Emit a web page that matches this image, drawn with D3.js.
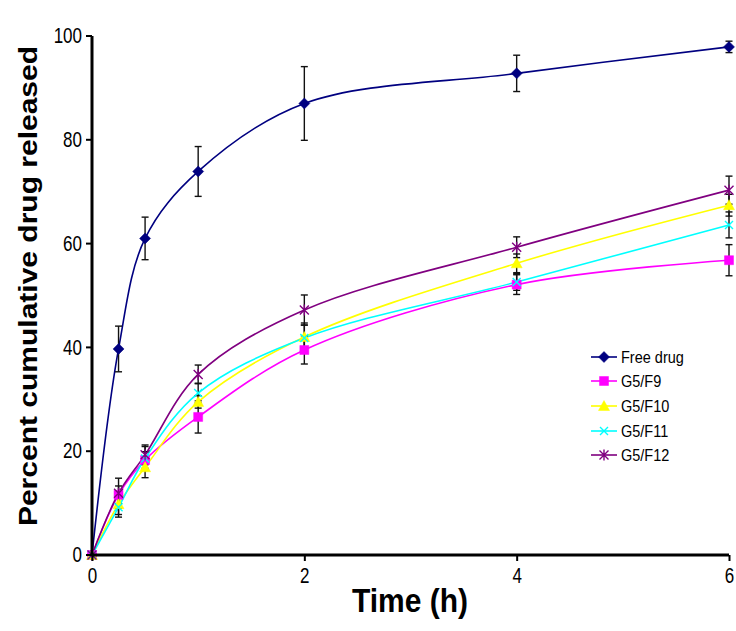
<!DOCTYPE html>
<html><head><meta charset="utf-8">
<script src="https://cdn.jsdelivr.net/npm/d3@7"></script>
<style>body{margin:0;background:#fff}svg{display:block}text{font-family:"Liberation Sans",Arial,sans-serif}</style>
</head><body>
<svg id="c" width="736" height="631"></svg>
<script>
const times = [0, 0.25, 0.5, 1, 2, 4, 6];
const seriesNames = ["Free drug", "G5/F9", "G5/F10", "G5/F11", "G5/F12"];
const freeDrug = [0, 39.7, 61.0, 73.9, 87.0, 92.8, 97.9];
const freeDrugSD = [0, 4.4, 4.1, 4.8, 7.1, 3.5, 1.1];
const f9 = [0, 11.6, 18.3, 26.6, 39.5, 52.1, 56.8];
const f9SD = [0, 1.7, 1.6, 3.1, 2.7, 1.9, 3.0];
const f10 = [0, 9.8, 16.9, 29.5, 42.0, 56.2, 67.4];
const f10SD = [0, 2.0, 2.0, 1.2, 2.7, 1.8, 2.1];
const f11 = [0, 9.2, 18.6, 31.2, 41.8, 52.6, 63.6];
const f11SD = [0, 1.9, 2.3, 1.9, 2.5, 1.6, 2.5];
const f12 = [0, 11.9, 19.3, 34.8, 47.2, 59.3, 70.3];
const f12SD = [0, 2.9, 1.9, 1.8, 2.9, 2.0, 2.7];
const xTicks = [0, 2, 4, 6];
const yTicks = [0, 20, 40, 60, 80, 100];
const colors = ["#000080", "#FF00FF", "#FFFF00", "#00FFFF", "#800080"];
const markers = ["diamond", "square", "triangle", "x", "star"];

const values = [freeDrug, f9, f10, f11, f12];
const sds = [freeDrugSD, f9SD, f10SD, f11SD, f12SD];
const series = seriesNames.map((n, i) => ({
  name: n, color: colors[i], marker: markers[i],
  pts: times.map((t, j) => ({t, v: values[i][j], sd: sds[i][j]}))
}));

const svg = d3.select("#c");
const x = d3.scaleLinear().domain([0, 6]).range([92, 729]);
const y = d3.scaleLinear().domain([0, 100]).range([555, 36]);

function markerPath(type) {
  switch (type) {
    case "diamond": return "M0,-5.5L5.5,0L0,5.5L-5.5,0Z";
    case "square": return "M-4.5,-4.5H4.5V4.5H-4.5Z";
    case "triangle": return "M0,-5.5L5.5,4.5H-5.5Z";
    case "x": return "M-4,-4L4,4M-4,4L4,-4";
    case "star": return "M-4.5,-4.5L4.5,4.5M-4.5,4.5L4.5,-4.5M0,-5.5V5.5";
  }
}
function drawMarker(g, type, color) {
  const filled = type === "diamond" || type === "square" || type === "triangle";
  g.append("path").attr("d", markerPath(type))
    .attr("fill", filled ? color : "none")
    .attr("stroke", color).attr("stroke-width", filled ? 0.5 : 1.4);
}

// lines
const line = d3.line().x(d => x(d.t)).y(d => y(d.v)).curve(d3.curveCatmullRom.alpha(0.5));
series.forEach(s => {
  svg.append("path").datum(s.pts).attr("d", line)
    .attr("fill", "none").attr("stroke", s.color).attr("stroke-width", 1.6);
});

// error bars
series.forEach(s => {
  s.pts.filter(p => p.sd > 0).forEach(p => {
    const g = svg.append("g").attr("stroke", "#111").attr("stroke-width", 1.4);
    const cx = x(p.t);
    g.append("line").attr("x1", cx).attr("x2", cx).attr("y1", y(p.v + p.sd)).attr("y2", y(p.v - p.sd));
    [p.v + p.sd, p.v - p.sd].forEach(v => {
      g.append("line").attr("x1", cx - 3.5).attr("x2", cx + 3.5).attr("y1", y(v)).attr("y2", y(v));
    });
  });
});

// markers
series.forEach(s => {
  s.pts.forEach(p => {
    const g = svg.append("g").attr("transform", `translate(${x(p.t)},${y(p.v)})`);
    drawMarker(g, s.marker, s.color);
  });
});

// axes
const yAxis = svg.append("g").attr("transform", "translate(92,0)")
  .call(d3.axisLeft(y).tickValues(yTicks).tickFormat(d3.format("d")).tickSize(6).tickPadding(4));
const xAxis = svg.append("g").attr("transform", "translate(0,555)")
  .call(d3.axisBottom(x).tickValues(xTicks).tickFormat(d3.format("d")).tickSize(6).tickPadding(4));
[yAxis, xAxis].forEach(a => {
  a.select(".domain").attr("stroke", "#000").attr("stroke-width", 3);
  a.selectAll(".tick line").attr("stroke", "#000").attr("stroke-width", 2);
  a.selectAll(".tick text").attr("font-size", 17).attr("fill", "#000").style("font-family", '"Liberation Sans", Arial, sans-serif');
});
xAxis.select(".domain").attr("d", "M92,0H729");
yAxis.select(".domain").attr("d", "M0,36V555");
// vertically stretch tick labels
yAxis.selectAll(".tick text").attr("dy", null).attr("dominant-baseline", "central")
  .attr("transform", "scale(1,1.25)");
yAxis.selectAll(".tick").each(function(d){
  d3.select(this).attr("transform", null);
  d3.select(this).select("line").attr("y1", y(d)).attr("y2", y(d));
  d3.select(this).select("text").attr("y", y(d) / 1.25);
});
xAxis.selectAll(".tick text").attr("dy", null).attr("y", 0)
  .attr("transform", "translate(0,28) scale(1,1.25)");

// axis titles
svg.append("text").attr("transform", "translate(410,612) scale(1,1.12)")
  .attr("text-anchor", "middle").attr("font-size", 30).attr("font-weight", "bold").text("Time (h)");
svg.append("text").attr("transform", "translate(37,286) rotate(-90) scale(1.2,1)")
  .attr("text-anchor", "middle").attr("font-size", 25).attr("font-weight", "bold").text("Percent cumulative drug released");

// legend
const legendY = [357, 381, 406, 431, 455];
series.forEach((s, i) => {
  const g = svg.append("g").attr("transform", `translate(591,${legendY[i]})`);
  g.append("line").attr("x1", 0).attr("x2", 26).attr("stroke", s.color).attr("stroke-width", 1.6);
  const m = g.append("g").attr("transform", "translate(13,0)");
  drawMarker(m, s.marker, s.color);
  g.append("text").attr("x", 30).attr("y", 0).attr("dominant-baseline", "central")
    .attr("font-size", 14.5).attr("transform", "scale(1,1.1)").text(s.name);
});
</script>
</body></html>
